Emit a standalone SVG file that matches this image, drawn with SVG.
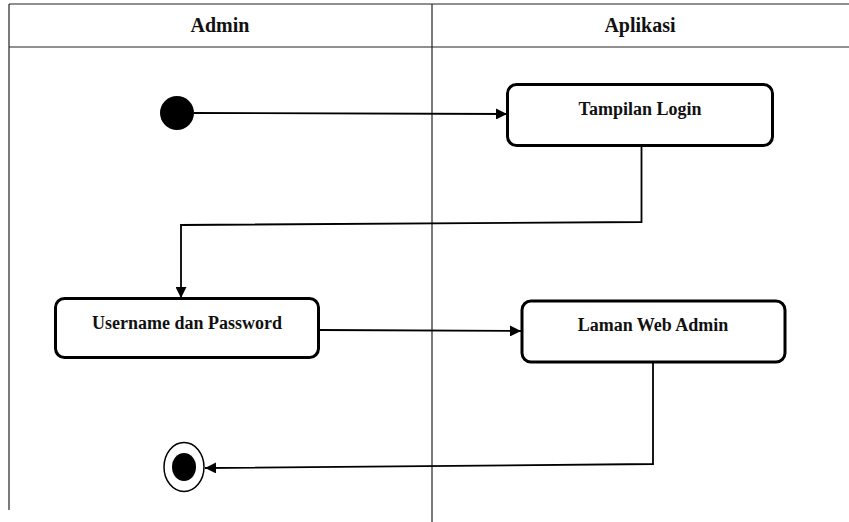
<svg xmlns="http://www.w3.org/2000/svg" width="849" height="522" viewBox="0 0 849 522">
<defs>
<style>
.grid{stroke:#222;stroke-width:1.2;fill:none}
.node{fill:#fff;stroke:#000;stroke-width:3}
.lbl{font-family:'Liberation Serif','Times New Roman','DejaVu Serif',serif;font-weight:700;font-size:18px;text-anchor:middle;fill:#111}
.hdr{font-family:'Liberation Serif','Times New Roman','DejaVu Serif',serif;font-weight:700;font-size:20px;text-anchor:middle;fill:#111}
.edge{fill:none;stroke:#000;stroke-width:1.8}
</style>
<marker id="arr2" viewBox="0 0 10 10" refX="10" refY="5" markerWidth="11" markerHeight="11" markerUnits="userSpaceOnUse" orient="auto">
<path d="M0,0 L10,5 L0,10 z" fill="#000"/>
</marker>
</defs>
<rect width="849" height="522" fill="#fff"/>
<g id="lanes">
<line class="grid" x1="9" y1="4" x2="849" y2="4"/>
<line class="grid" x1="9" y1="47" x2="849" y2="47"/>
<line class="grid" x1="9" y1="4" x2="9" y2="510"/>
<line class="grid" x1="432" y1="4" x2="432" y2="522"/>
<text class="hdr" x="220" y="32">Admin</text>
<text class="hdr" x="640" y="32">Aplikasi</text>
</g>
<g id="connectors">
<line class="edge" x1="194" y1="113" x2="507" y2="114" marker-end="url(#arr2)"/>
<polyline class="edge" points="641.5,146 641.5,222 181,225 181,298" marker-end="url(#arr2)"/>
<line class="edge" x1="320" y1="330" x2="521" y2="331" marker-end="url(#arr2)"/>
<polyline class="edge" points="653,362 653,464 205,468" marker-end="url(#arr2)"/>
</g>
<g id="start">
<circle cx="177" cy="113" r="17" fill="#000"/>
</g>
<g id="tampilan-login">
<rect class="node" x="507.5" y="84.5" width="265" height="61" rx="9"/>
<text class="lbl" x="640" y="115">Tampilan Login</text>
</g>
<g id="username-password">
<rect class="node" x="55.5" y="298.5" width="263" height="59" rx="9"/>
<text class="lbl" x="187" y="329">Username dan Password</text>
</g>
<g id="laman-web-admin">
<rect class="node" x="522" y="301" width="263" height="61" rx="9"/>
<text class="lbl" x="653" y="331">Laman Web Admin</text>
</g>
<g id="end">
<ellipse cx="184" cy="467" rx="20" ry="24.5" fill="#fff" stroke="#000" stroke-width="1.5"/>
<ellipse cx="184" cy="467" rx="12" ry="14" fill="#000"/>
</g>
</svg>
